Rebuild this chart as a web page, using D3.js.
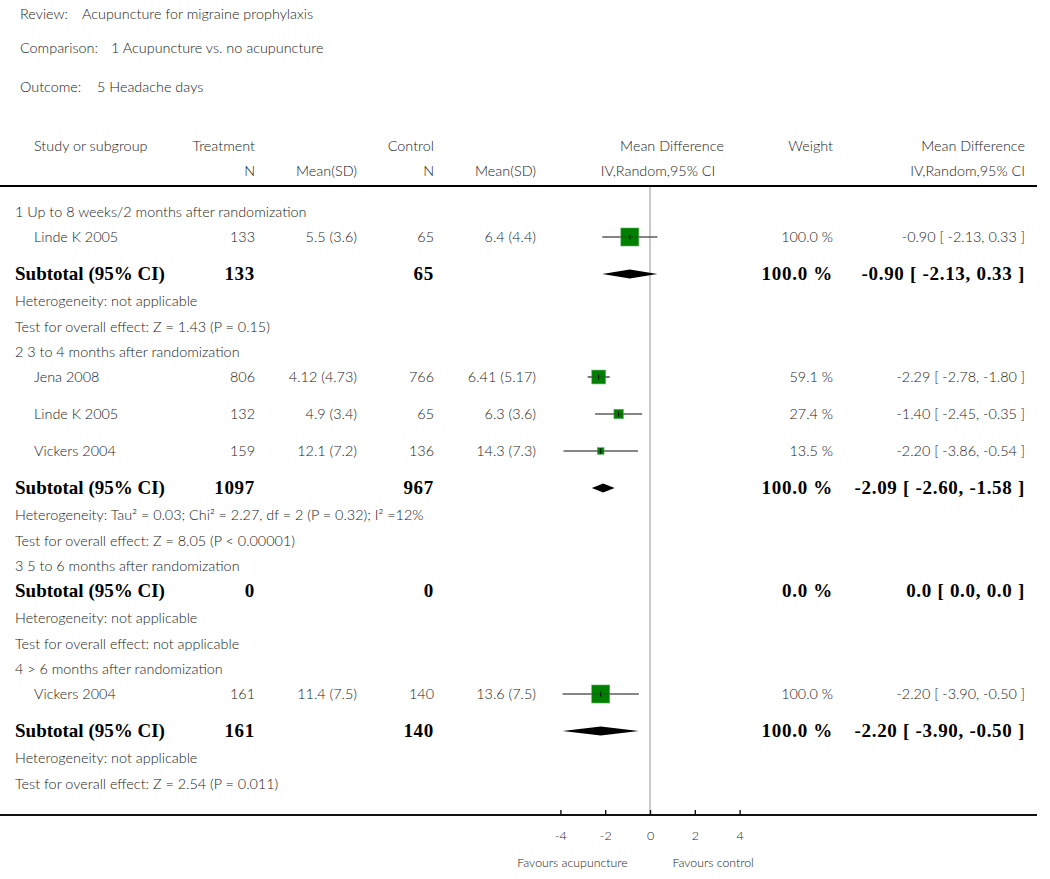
<!DOCTYPE html>
<html>
<head>
<meta charset="utf-8">
<script src="https://cdn.jsdelivr.net/npm/d3@7/dist/d3.min.js"></script>
<style>
  html, body { margin: 0; padding: 0; background: #fff; }
  svg { display: block; }
  .t { font-family: Lato, "Open Sans", sans-serif; font-size: 14.4px; font-weight: 300; fill: #1a1a1a; }
  .b { font-family: "Liberation Serif", "DejaVu Serif", serif; font-weight: bold; font-size: 19px; fill: #000; }
  .bn { letter-spacing: 0.7px; }
</style>
</head>
<body>
<svg id="chart" width="1050" height="879"></svg>
<script>
// ---------------- DATA ----------------
const titleLabels = ["Review:", "Comparison:", "Outcome:"];
const titleValues = ["Acupuncture for migraine prophylaxis", "1 Acupuncture vs. no acupuncture", "5 Headache days"];

const subgroupNames = [
  "1 Up to 8 weeks/2 months after randomization",
  "2 3 to 4 months after randomization",
  "3 5 to 6 months after randomization",
  "4 > 6 months after randomization"
];

// studies
const studyGroup   = [0, 1, 1, 1, 3];
const studyNames   = ["Linde K 2005", "Jena 2008", "Linde K 2005", "Vickers 2004", "Vickers 2004"];
const treatN       = [133, 806, 132, 159, 161];
const treatMeanSD  = ["5.5 (3.6)", "4.12 (4.73)", "4.9 (3.4)", "12.1 (7.2)", "11.4 (7.5)"];
const ctrlN        = [65, 766, 65, 136, 140];
const ctrlMeanSD   = ["6.4 (4.4)", "6.41 (5.17)", "6.3 (3.6)", "14.3 (7.3)", "13.6 (7.5)"];
const studyMD      = [-0.90, -2.29, -1.40, -2.20, -2.20];
const studyLo      = [-2.13, -2.78, -2.45, -3.86, -3.90];
const studyHi      = [0.33, -1.80, -0.35, -0.54, -0.50];
const studyWeight  = [100.0, 59.1, 27.4, 13.5, 100.0];

// subtotals
const subTreatN  = [133, 1097, 0, 161];
const subCtrlN   = [65, 967, 0, 140];
const subMD      = [-0.90, -2.09, 0.0, -2.20];
const subLo      = [-2.13, -2.60, 0.0, -3.90];
const subHi      = [0.33, -1.58, 0.0, -0.50];
const subWeight  = ["100.0 %", "100.0 %", "0.0 %", "100.0 %"];
const subCI      = ["-0.90 [ -2.13, 0.33 ]", "-2.09 [ -2.60, -1.58 ]", "0.0 [ 0.0, 0.0 ]", "-2.20 [ -3.90, -0.50 ]"];
const subEstimable = [true, true, false, true];
const heterogeneity = [
  "Heterogeneity: not applicable",
  "Heterogeneity: Tau² = 0.03; Chi² = 2.27, df = 2 (P = 0.32); I² =12%",
  "Heterogeneity: not applicable",
  "Heterogeneity: not applicable"
];
const overallTest = [
  "Test for overall effect: Z = 1.43 (P = 0.15)",
  "Test for overall effect: Z = 8.05 (P < 0.00001)",
  "Test for overall effect: not applicable",
  "Test for overall effect: Z = 2.54 (P = 0.011)"
];

const axisTicks = [-4, -2, 0, 2, 4];
const favoursLeft = "Favours acupuncture";
const favoursRight = "Favours control";

// ---------------- LAYOUT ----------------
const svg = d3.select("#chart");
const col = { head: 15, name: 34, tN: 255, tMS: 357, cN: 434, cMS: 536, w: 833, ci: 1025 };
const x = d3.scaleLinear().domain([-4, 4]).range([560.4, 739.6]);
const maxBox = 18;
const fmt = v => v.toFixed(2);
const fmtCI = (m, l, h) => `${fmt(m)} [ ${fmt(l)}, ${fmt(h)} ]`;

// build rows
const rows = [];
subgroupNames.forEach((name, g) => {
  rows.push({ type: "heading", g });
  studyNames.forEach((s, i) => { if (studyGroup[i] === g) rows.push({ type: "study", i }); });
  rows.push({ type: "subtotal", g });
  rows.push({ type: "het", g });
  rows.push({ type: "test", g });
});
const gapAfter = (prev, cur) => {
  if (cur === "study") return prev === "study" ? 37 : 25;
  if (cur === "subtotal") return prev === "study" ? 37 : 25;
  if (cur === "het") return 26.5;
  if (cur === "test") return 26;
  return 25.5; // heading
};
let yCur = 212;
rows.forEach((r, k) => {
  if (k > 0) yCur += gapAfter(rows[k - 1].type, r.type);
  r.y = yCur;
});

// ---------------- TITLE ----------------
const titleY = [19, 53, 92];
const titleValX = [82, 111, 97];
titleLabels.forEach((t, k) => {
  svg.append("text").attr("class", "t").attr("x", 20).attr("y", titleY[k]).text(t);
  svg.append("text").attr("class", "t").attr("x", titleValX[k]).attr("y", titleY[k]).text(titleValues[k]);
});

// ---------------- HEADER ----------------
const h1 = 151, h2 = 176;
const hdr = [
  ["Study or subgroup", col.name, h1, "start"],
  ["Treatment", col.tN, h1, "end"],
  ["Control", col.cN, h1, "end"],
  ["Mean Difference", 672, h1, "middle"],
  ["Weight", col.w, h1, "end"],
  ["Mean Difference", col.ci, h1, "end"],
  ["N", col.tN, h2, "end"],
  ["Mean(SD)", col.tMS, h2, "end"],
  ["N", col.cN, h2, "end"],
  ["Mean(SD)", col.cMS, h2, "end"],
  ["IV,Random,95% CI", 658, h2, "middle"],
  ["IV,Random,95% CI", col.ci, h2, "end"]
];
svg.selectAll("text.hdr").data(hdr).join("text")
  .attr("class", "t hdr").attr("x", d => d[1]).attr("y", d => d[2])
  .attr("text-anchor", d => d[3]).text(d => d[0]);

// lines
const topLineY = 186, axisY = 815;
svg.append("line").attr("x1", x(0)).attr("x2", x(0)).attr("y1", topLineY).attr("y2", axisY)
  .attr("stroke", "#bdbdbd").attr("stroke-width", 1.6);
svg.append("line").attr("x1", 0).attr("x2", 1037).attr("y1", topLineY).attr("y2", topLineY)
  .attr("stroke", "#000").attr("stroke-width", 2.2);
svg.append("line").attr("x1", 0).attr("x2", 1037).attr("y1", axisY).attr("y2", axisY)
  .attr("stroke", "#111").attr("stroke-width", 2.2);

// ---------------- ROWS ----------------
const txt = (cls, xx, yy, anchor, s) =>
  svg.append("text").attr("class", cls).attr("x", xx).attr("y", yy).attr("text-anchor", anchor).text(s);

rows.forEach(r => {
  const yt = r.y + 5, yb = r.y + 6;
  if (r.type === "heading") {
    txt("t", col.head, yt, "start", subgroupNames[r.g]);
  } else if (r.type === "study") {
    const i = r.i;
    txt("t", col.name, yt, "start", studyNames[i]);
    txt("t", col.tN, yt, "end", treatN[i]);
    txt("t", col.tMS, yt, "end", treatMeanSD[i]);
    txt("t", col.cN, yt, "end", ctrlN[i]);
    txt("t", col.cMS, yt, "end", ctrlMeanSD[i]);
    txt("t", col.w, yt, "end", studyWeight[i].toFixed(1) + " %");
    txt("t", col.ci, yt, "end", fmtCI(studyMD[i], studyLo[i], studyHi[i]));
    // CI line
    svg.append("line").attr("x1", x(studyLo[i])).attr("x2", x(studyHi[i]))
      .attr("y1", r.y).attr("y2", r.y).attr("stroke", "#444").attr("stroke-width", 1.2);
    const s = maxBox * Math.sqrt(studyWeight[i] / 100);
    svg.append("rect").attr("x", x(studyMD[i]) - s / 2).attr("y", r.y - s / 2)
      .attr("width", s).attr("height", s).attr("fill", "#008000")
      .attr("stroke", "#5fae5f").attr("stroke-width", 0.6);
    svg.append("line").attr("x1", x(studyMD[i])).attr("x2", x(studyMD[i]))
      .attr("y1", r.y - 2.5).attr("y2", r.y + 2.5).attr("stroke", "#000").attr("stroke-width", 1);
    svg.append("line").attr("x1", x(studyLo[i])).attr("x2", x(studyHi[i]))
      .attr("y1", r.y).attr("y2", r.y).attr("stroke", "#333").attr("stroke-width", 0.8).attr("opacity", 0.6);
  } else if (r.type === "subtotal") {
    const g = r.g;
    txt("b", col.head, yb, "start", "Subtotal (95% CI)");
    txt("b bn", col.tN, yb, "end", subTreatN[g]);
    txt("b bn", col.cN, yb, "end", subCtrlN[g]);
    txt("b bn", col.w, yb, "end", subWeight[g]);
    txt("b bn", col.ci, yb, "end", subCI[g]);
    if (subEstimable[g]) {
      const pts = [[x(subLo[g]), r.y], [x(subMD[g]), r.y - 4.5], [x(subHi[g]), r.y], [x(subMD[g]), r.y + 4.5]];
      svg.append("path").attr("d", d3.line()(pts) + "Z").attr("fill", "#000");
    }
  } else if (r.type === "het") {
    txt("t", col.head, yt, "start", heterogeneity[r.g]);
  } else {
    txt("t", col.head, yt, "start", overallTest[r.g]);
  }
});

// ---------------- AXIS ----------------
const axis = d3.axisBottom(x).tickValues(axisTicks).tickSize(-5).tickPadding(16)
  .tickFormat(d3.format("d"));
const ag = svg.append("g").attr("transform", `translate(0,${axisY})`).call(axis);
ag.select(".domain").remove();
ag.selectAll(".tick line").attr("stroke", "#111").attr("stroke-width", 1.4);
ag.selectAll(".tick text").attr("class", "t").style("font-size", "12.5px").attr("fill", "#222")
  .text(d => d < 0 ? "-" + Math.abs(d) : d);

txt("t", x(-1), 867, "end", favoursLeft).style("font-size", "12.3px");
txt("t", x(1), 867, "start", favoursRight).style("font-size", "12.3px");
</script>
</body>
</html>
